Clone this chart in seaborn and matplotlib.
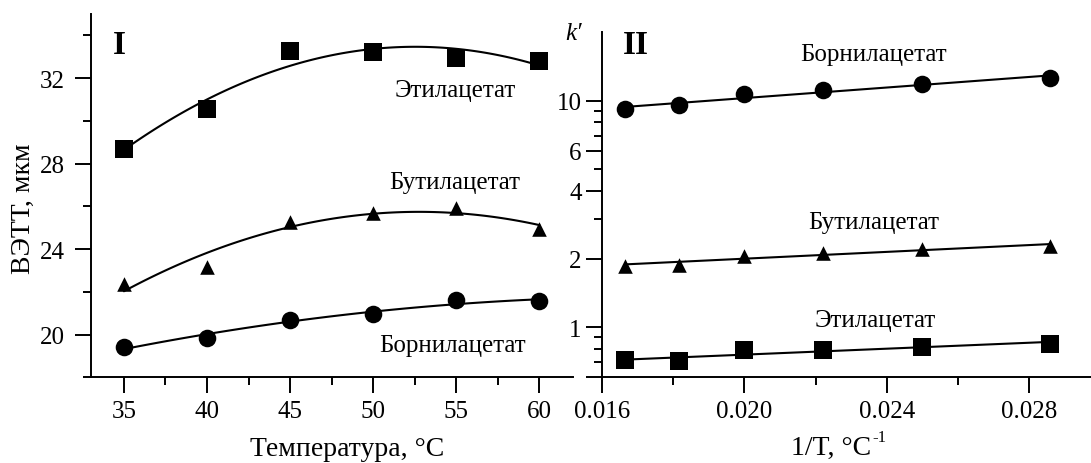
# two panels: HETP vs temperature (I) and k' vs 1/T on a log scale (II)
import numpy as np
import matplotlib.pyplot as plt
import seaborn as sns
from matplotlib.ticker import NullFormatter

# panel I: HETP, um
temperature = [35, 40, 45, 50, 55, 60]
hetp_ethyl = [28.70, 30.57, 33.29, 33.21, 32.96, 32.81]
hetp_butyl = [22.36, 23.14, 25.27, 25.70, 25.94, 24.93]
hetp_bornyl = [19.41, 19.84, 20.70, 20.96, 21.63, 21.55]

# panel II: retention factor k'
inv_temperature = [1 / 60, 1 / 55, 1 / 50, 1 / 45, 1 / 40, 1 / 35]
k_bornyl = [9.13, 9.51, 10.70, 11.18, 11.84, 12.54]
k_butyl = [1.868, 1.887, 2.067, 2.123, 2.211, 2.271]
k_ethyl = [0.713, 0.706, 0.790, 0.795, 0.817, 0.845]

names = ['Этилацетат', 'Бутилацетат', 'Борнилацетат']

SERIF = ['Liberation Serif', 'DejaVu Serif']

sns.set_theme(style='ticks', rc={
    'axes.edgecolor': 'black', 'axes.labelcolor': 'black', 'text.color': 'black',
    'xtick.color': 'black', 'ytick.color': 'black', 'axes.linewidth': 1.4,
})
plt.rcParams['font.family'] = SERIF

W, H = 1091, 464
fig = plt.figure(figsize=(W / 100, H / 100), dpi=100)
ax1 = fig.add_axes([0.0831, 0.1847, 0.4418, 0.7830])
ax2 = fig.add_axes([0.5515, 0.1847, 0.4485, 0.7435])


def px(x, y):
    # pixel position -> figure fraction
    return x / W, 1 - y / H


# ---- panel I ----
for vals, mk, size in [(hetp_ethyl, 's', 160), (hetp_butyl, '^', 110), (hetp_bornyl, 'o', 160)]:
    sns.regplot(x=temperature, y=vals, order=2, ci=None, ax=ax1, color='black',
                marker=mk, scatter_kws={'s': size, 'linewidths': 0, 'alpha': 1},
                line_kws={'lw': 1.5})

ax1.set_xlim(33, 62)
ax1.set_ylim(18, 35)
ax1.set_xticks([35, 40, 45, 50, 55, 60], ['35', '40', '45', '50', '55', '60'])
ax1.set_xticks([37.5, 42.5, 47.5, 52.5, 57.5], minor=True)
ax1.set_yticks([20, 24, 28, 32], ['20', '24', '28', '32'])
ax1.set_yticks([18, 22, 26, 30, 34], minor=True)
ax1.tick_params(axis='x', which='major', pad=5)
ax1.tick_params(axis='y', which='major', pad=7)

# ---- panel II ----
ax2.set_yscale('log')
xs = np.linspace(min(inv_temperature), max(inv_temperature), 50)
for vals, mk, size in [(k_bornyl, 'o', 160), (k_butyl, '^', 110), (k_ethyl, 's', 160)]:
    coef = np.polyfit(inv_temperature, np.log10(vals), 1)
    sns.lineplot(x=xs, y=10 ** np.polyval(coef, xs), ax=ax2, color='black', lw=1.5)
    sns.scatterplot(x=inv_temperature, y=vals, ax=ax2, color='black', marker=mk,
                    s=size, linewidth=0, zorder=3)

ax2.set_xlim(0.016, 0.02973)
ax2.set_ylim(0.6, 20)
ax2.set_xticks([0.016, 0.020, 0.024, 0.028], ['0.016', '0.020', '0.024', '0.028'])
ax2.set_xticks([0.018, 0.022, 0.026], minor=True)
ax2.set_yticks([0.6, 1, 2, 4, 6, 10], ['', '1', '2', '4', '6', '10'])
ax2.set_yticks([0.7, 0.8, 0.9, 3, 5, 7, 8, 9], minor=True)
ax2.yaxis.set_minor_formatter(NullFormatter())
ax2.tick_params(axis='x', which='major', pad=5)
ax2.tick_params(axis='y', which='major', pad=3)

for ax in (ax1, ax2):
    sns.despine(ax=ax)
    ax.tick_params(which='major', direction='out', length=11.5, width=1.4, labelsize=18)
    ax.tick_params(which='minor', direction='out', length=5.7, width=1.4)
    ax.set_xlabel('')
    ax.set_ylabel('')
    plt.setp(ax.get_xticklabels() + ax.get_yticklabels(), family=SERIF)

# axis titles
fig.text(*px(23, 209), 'ВЭТТ, мкм', rotation=90, ha='center', va='center', fontsize=20)
fig.text(*px(347, 456.5), 'Температура, °C', ha='center', va='baseline', fontsize=20)
fig.text(*px(871, 455), '1/T, °C', ha='right', va='baseline', fontsize=20)
fig.text(*px(872, 442), '-1', ha='left', va='baseline', fontsize=12)
fig.text(*px(574, 40), 'k′', ha='center', va='baseline', fontsize=18, style='italic')

# panel numbers
fig.text(*px(119, 54), 'I', ha='center', va='baseline', fontsize=24, fontweight='bold')
fig.text(*px(636, 54), 'II', ha='center', va='baseline', fontsize=24, fontweight='bold')

# curve names
for (x, y), name in zip([(455, 97), (455, 189), (453, 352)], names):
    fig.text(*px(x, y), name, ha='center', va='baseline', fontsize=18)
for (x, y), name in zip([(874, 61), (874, 229), (875, 327)], names[::-1]):
    fig.text(*px(x, y), name, ha='center', va='baseline', fontsize=18)

fig.savefig('out.png', dpi=100)
